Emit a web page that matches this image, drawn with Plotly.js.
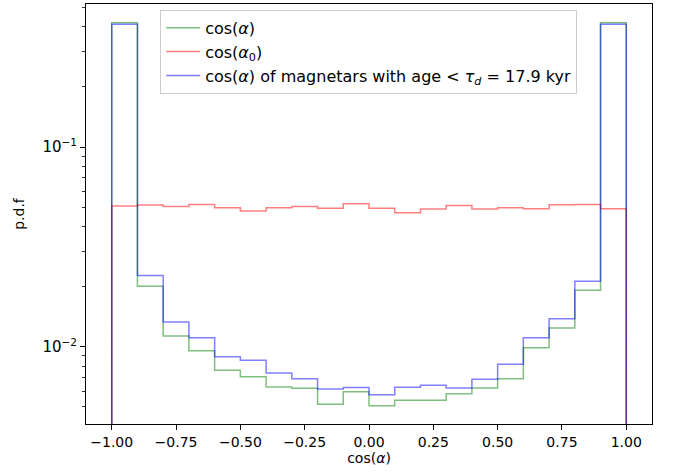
<!DOCTYPE html>
<html>
<head>
<meta charset="utf-8">
<script src="https://cdn.plot.ly/plotly-3.0.1.min.js"></script>
<style>html,body{margin:0;padding:0;background:#fff;}#chart{width:673px;height:474px;}</style>
</head>
<body>
<div id="chart"></div>
<script>
// bin edges: 20 bins from -1 to 1
const binEdges = [-1.0,-0.9,-0.8,-0.7,-0.6,-0.5,-0.4,-0.3,-0.2,-0.1,0.0,0.1,0.2,0.3,0.4,0.5,0.6,0.7,0.8,0.9,1.0];
const cosAlpha = [0.419,0.0201,0.0113,0.00955,0.00762,0.00708,0.00628,0.00619,0.00515,0.00595,
                  0.00506,0.00539,0.00539,0.00582,0.00621,0.00691,0.00989,0.0124,0.0192,0.419];
const cosAlpha0 = [0.0506,0.0512,0.0503,0.0516,0.0496,0.0478,0.0496,0.0503,0.0493,0.0520,
                   0.0493,0.0469,0.0489,0.0510,0.0489,0.0496,0.0491,0.0514,0.0516,0.0491];
const cosAlphaYoung = [0.4115,0.0227,0.0133,0.0111,0.00891,0.00855,0.00738,0.00691,0.00614,0.00624,
                       0.00575,0.00626,0.00641,0.00621,0.00687,0.00816,0.0111,0.0138,0.0213,0.4115];
const seriesNames = ['cos(<i>α</i>)','cos(<i>α</i><sub>0</sub>)','cos(<i>α</i>) of magnetars with age &lt; <i>τ<sub>d</sub></i> = 17.9 kyr'];
const xTickVals = [-1.0,-0.75,-0.5,-0.25,0.0,0.25,0.5,0.75,1.0];
const xTickText = ['−1.00','−0.75','−0.50','−0.25','0.00','0.25','0.50','0.75','1.00'];
const yTickVals = [0.01,0.1];
const yTickText = ['10<sup>−2</sup>','10<sup>−1</sup>'];
const yMinorVals = [0.005,0.006,0.007,0.008,0.009,0.02,0.03,0.04,0.05,0.06,0.07,0.08,0.09,0.2,0.3,0.4,0.5];

function stepTrace(vals, name, color){
  const floor = 1e-6;
  const x = [binEdges[0]], y = [floor];
  for (let i = 0; i < vals.length; i++){ x.push(binEdges[i]); y.push(vals[i]); }
  x.push(binEdges[binEdges.length-1]); y.push(vals[vals.length-1]);
  x.push(binEdges[binEdges.length-1]); y.push(floor);
  return {x:x, y:y, name:name, type:'scatter', mode:'lines',
          line:{shape:'hv', color:color, width:1.5}, hoverinfo:'skip'};
}

const traces = [
  stepTrace(cosAlpha, seriesNames[0], 'rgba(0,128,0,0.5)'),
  stepTrace(cosAlpha0, seriesNames[1], 'rgba(255,0,0,0.5)'),
  stepTrace(cosAlphaYoung, seriesNames[2], 'rgba(0,0,255,0.5)')
];

const font = {family:'DejaVu Sans', size:14, color:'#000'};
const layout = {
  width:673, height:474,
  margin:{l:86, r:21, t:4, b:50},
  paper_bgcolor:'#fff', plot_bgcolor:'#fff',
  font:font,
  showlegend:true,
  legend:{x:0.131, y:0.986, xanchor:'left', yanchor:'top',
          bordercolor:'#cccccc', borderwidth:1, bgcolor:'rgba(255,255,255,0.8)',
          font:{family:'DejaVu Sans', size:16, color:'#000'}, itemwidth:34},
  xaxis:{range:[-1.1,1.1], showgrid:false, zeroline:false,
         showline:true, linecolor:'#000', linewidth:1, mirror:true,
         ticks:'outside', ticklen:5, tickwidth:1, tickcolor:'#000',
         tickvals:xTickVals, ticktext:xTickText,
         tickfont:{family:'DejaVu Sans', size:14, color:'#000'},
         title:{text:'cos(<i>α</i>)', font:{family:'DejaVu Sans', size:14, color:'#000'}, standoff:4}},
  yaxis:{type:'log', range:[-2.387,-0.284], showgrid:false, zeroline:false,
         showline:true, linecolor:'#000', linewidth:1, mirror:true,
         ticks:'outside', ticklen:5, tickwidth:1, tickcolor:'#000',
         tickvals:yTickVals, ticktext:yTickText,
         tickfont:{family:'DejaVu Sans', size:15, color:'#000'},
         minor:{tickvals:yMinorVals, ticks:'outside', ticklen:3, tickwidth:0.8, tickcolor:'#000', showgrid:false},
         title:{text:'p.d.f', font:{family:'DejaVu Sans', size:14, color:'#000'}, standoff:14}}
};

Plotly.newPlot('chart', traces, layout, {displayModeBar:false, staticPlot:true});
</script>
</body>
</html>
